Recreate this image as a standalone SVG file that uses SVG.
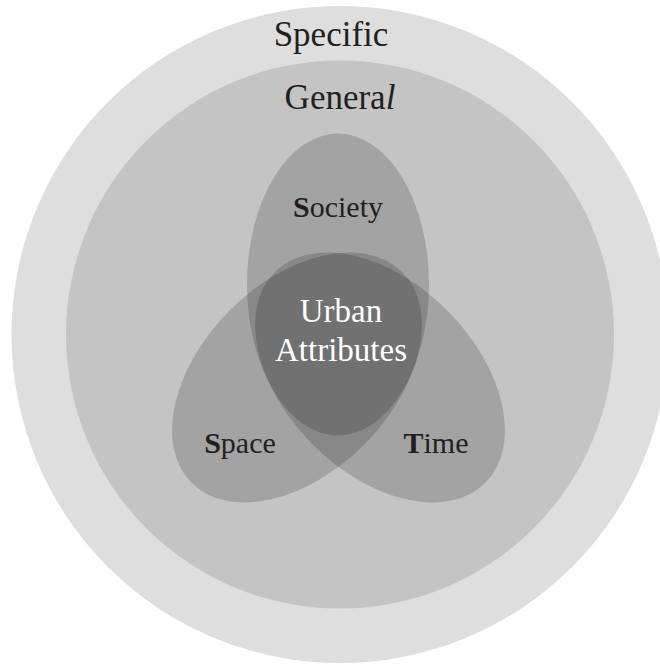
<svg xmlns="http://www.w3.org/2000/svg" width="660" height="664" viewBox="0 0 660 664">
<style>
.lbl{font-family:"Liberation Serif","Times New Roman",serif;fill:#231f20;text-anchor:middle}
.set{fill:#000;fill-opacity:0.163}
.b{font-weight:bold}
</style>
<rect width="660" height="664" fill="#fff"/>
<g id="specific">
<circle cx="340" cy="334.5" r="328.5" fill="#dedede"/>
<text class="lbl" x="331" y="46" font-size="35">Specific</text>
</g>
<g id="general">
<circle cx="340" cy="334.5" r="274" fill="#c4c4c4"/>
<text class="lbl" x="340" y="108.5" font-size="35">Genera<tspan font-style="italic">l</tspan></text>
</g>
<g id="society">
<ellipse class="set" cx="338" cy="284.5" rx="91" ry="151"/>
<text class="lbl" x="338" y="217" font-size="30"><tspan class="b">S</tspan>ociety</text>
</g>
<g id="space">
<ellipse class="set" cx="297" cy="377.5" rx="149" ry="95" transform="rotate(-45 297 377.5)"/>
<text class="lbl" x="240" y="453" font-size="30"><tspan class="b">S</tspan>pace</text>
</g>
<g id="time">
<ellipse class="set" cx="380" cy="377.5" rx="149" ry="95" transform="rotate(45 380 377.5)"/>
<text class="lbl" x="436" y="453" font-size="30"><tspan class="b">T</tspan>ime</text>
</g>
<g id="urban-attributes">
<text class="lbl" x="341" y="321.5" font-size="33" style="fill:#fff">Urban</text>
<text class="lbl" x="341" y="361" font-size="33" style="fill:#fff">Attributes</text>
</g>
<g id="connectors"></g>
</svg>
